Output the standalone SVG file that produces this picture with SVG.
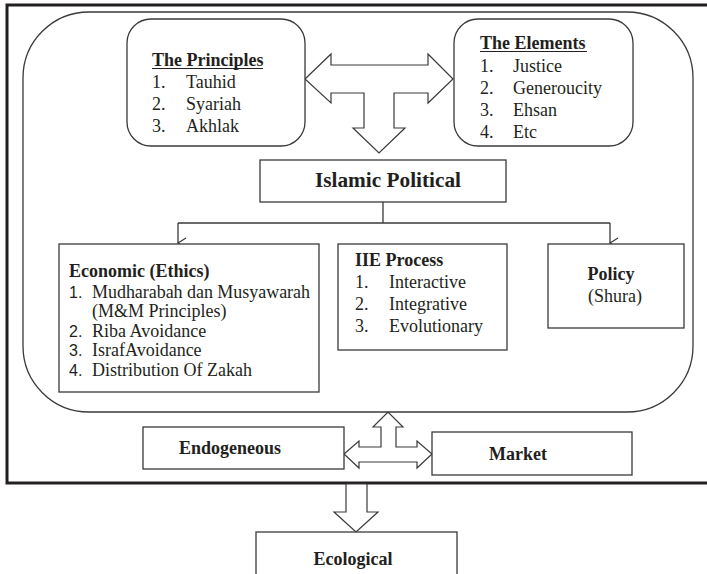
<svg xmlns="http://www.w3.org/2000/svg" width="707" height="574" viewBox="0 0 707 574">
<style>
.ln{fill:none;stroke:#3a3a3a;stroke-width:1.3}
.box{fill:#fff;stroke:#3a3a3a;stroke-width:1.3}
.arr{fill:#fff;stroke:#3a3a3a;stroke-width:1.2;stroke-linejoin:miter}
.t{font-family:"Liberation Serif","Times New Roman",serif;font-size:18px;fill:#231f20}
.b{font-weight:bold}
.n{font-family:"Liberation Sans",Arial,sans-serif;font-size:16px;fill:#231f20}
.u{stroke:#231f20;stroke-width:1.2}
</style>
<defs>
<marker id="v" markerWidth="12" markerHeight="12" refX="6" refY="10" orient="auto" markerUnits="userSpaceOnUse" viewBox="0 0 12 12">
<path d="M1,2 L6,10 L11,2" fill="none" stroke="#3a3a3a" stroke-width="1.2"/>
</marker>
</defs>
<rect x="0" y="0" width="707" height="574" fill="#fff"/>
<g id="frame">
<rect x="7" y="5" width="720" height="478" fill="none" stroke="#231f20" stroke-width="3"/>
<rect x="23" y="12" width="670" height="400" rx="66" ry="66" class="ln"/>
</g>
<g id="connectors">
<polygon class="arr" points="305,79 331,54 331,65 428,65 428,54 453,79 428,103 428,93 394,93 394,128 405,128 379,153 353,128 364,128 364,93 331,93 331,103"/>
<path class="ln" d="M383,202 V223 M178,223 H610"/>
<path class="ln" d="M178,223 V243" marker-end="url(#v)"/>
<path class="ln" d="M610,223 V243" marker-end="url(#v)"/>
<polygon class="arr" points="344,454 359,441 359,447 381,447 381,427 373,427 388,412 403,427 396,427 396,447 417,447 417,441 432,454 417,468 417,462 359,462 359,468"/>
<polygon class="arr" points="346,484 367,484 367,512 378,512 356,532 334,512 346,512"/>
</g>
<g id="principles">
<rect class="box" x="127" y="19" width="178" height="127" rx="24" ry="24"/>
<text class="t b" x="152" y="66">The Principles</text>
<line class="u" x1="152" y1="68.5" x2="263" y2="68.5"/>
<text class="t" x="152" y="88">1.</text><text class="t" x="186" y="88">Tauhid</text>
<text class="t" x="152" y="110">2.</text><text class="t" x="186" y="110">Syariah</text>
<text class="t" x="152" y="132">3.</text><text class="t" x="186" y="132">Akhlak</text>
</g>
<g id="elements">
<rect class="box" x="454" y="19" width="179" height="127" rx="24" ry="24"/>
<text class="t b" x="480" y="49">The Elements</text>
<line class="u" x1="480" y1="51.5" x2="587" y2="51.5"/>
<text class="t" x="480" y="72">1.</text><text class="t" x="513" y="72">Justice</text>
<text class="t" x="480" y="94">2.</text><text class="t" x="513" y="94">Generoucity</text>
<text class="t" x="480" y="116">3.</text><text class="t" x="513" y="116">Ehsan</text>
<text class="t" x="480" y="138">4.</text><text class="t" x="513" y="138">Etc</text>
</g>
<g id="islamic-political">
<rect class="box" x="260" y="160" width="246" height="42"/>
<text class="t b" x="388" y="187" text-anchor="middle" style="font-size:21px" textLength="146" lengthAdjust="spacingAndGlyphs">Islamic Political</text>
</g>
<g id="economic">
<rect class="box" x="59" y="244" width="260" height="148"/>
<text class="t b" x="69" y="277">Economic (Ethics)</text>
<text class="n" x="69" y="298">1.</text><text class="t" x="92" y="298" textLength="218" lengthAdjust="spacing">Mudharabah dan Musyawarah</text>
<text class="t" x="92" y="317">(M&amp;M Principles)</text>
<text class="n" x="69" y="337">2.</text><text class="t" x="92" y="337">Riba Avoidance</text>
<text class="n" x="69" y="356">3.</text><text class="t" x="92" y="356">IsrafAvoidance</text>
<text class="n" x="69" y="376">4.</text><text class="t" x="92" y="376">Distribution Of Zakah</text>
</g>
<g id="iie-process">
<rect class="box" x="338" y="244" width="169" height="106"/>
<text class="t b" x="355" y="266">IIE Process</text>
<text class="t" x="355" y="288">1.</text><text class="t" x="389" y="288">Interactive</text>
<text class="t" x="355" y="310">2.</text><text class="t" x="389" y="310">Integrative</text>
<text class="t" x="355" y="332">3.</text><text class="t" x="389" y="332">Evolutionary</text>
</g>
<g id="policy">
<rect class="box" x="548" y="244" width="136" height="84"/>
<text class="t b" x="611" y="280" text-anchor="middle">Policy</text>
<text class="t" x="615" y="302" text-anchor="middle">(Shura)</text>
</g>
<g id="endogeneous">
<rect class="box" x="143" y="427" width="201" height="42"/>
<text class="t b" x="179" y="454">Endogeneous</text>
</g>
<g id="market">
<rect class="box" x="432" y="432" width="200" height="43"/>
<text class="t b" x="489" y="460">Market</text>
</g>
<g id="ecological">
<rect class="box" x="256" y="532" width="201" height="60"/>
<text class="t b" x="353" y="565" text-anchor="middle">Ecological</text>
</g>
</svg>
